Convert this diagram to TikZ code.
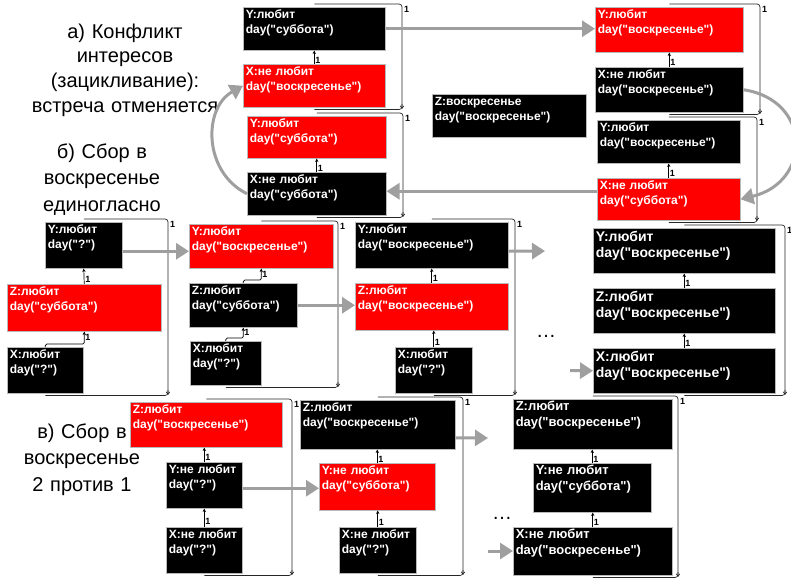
\documentclass[tikz,border=0pt]{standalone}
\usepackage{fontspec}
\setmainfont{Liberation Sans}[Ligatures=TeXOff]
\usetikzlibrary{arrows.meta}
% loop bracket: top node, bottom node, right x, bottom y
\newcommand{\looparc}[4]{%
  \draw[loopback,-{Straight Barb[length=2.5pt,width=3.5pt]}]
    ([yshift=3pt]#1.north) -| node[count,pos=0.5,anchor=north west,xshift=1pt,yshift=-1.5pt] {1} (#3,#4);
  \draw[loopback] ([yshift=-2pt]#2.south) -| (#3,#4-5);
}

\begin{document}
\begin{tikzpicture}[x=1pt,y=-1pt,
  cell/.style 2 args={draw=gray!55,line width=0.5pt,fill=black,text=white,
    anchor=north west,inner xsep=2.5pt,inner ysep=2pt,align=left,
    font=\bfseries\fontsize{12}{15}\selectfont,
    text width=#1-5pt,text height=9.5pt,text depth=#2-13.5pt},
  hot/.style={fill=red},
  mid/.style={font=\bfseries\fontsize{13}{15.5}\selectfont},
  big/.style={font=\bfseries\fontsize{14}{16}\selectfont,text height=11.5pt},
  link/.style={draw=black,line width=0.7pt,rounded corners=1.5pt,
    -{Stealth[length=3.5pt,width=3.2pt]}},
  loopback/.style={draw=black!85,line width=0.7pt,rounded corners=3pt},
  count/.style={font=\bfseries\fontsize{9}{9}\selectfont,inner sep=0.8pt},
  flow/.style={draw=gray!75,line width=3pt,-{Triangle[length=13pt,width=16pt]}},
  heading/.style={text width=220pt,align=center,anchor=base,
    font=\fontsize{20}{24.5}\selectfont}
]
\useasboundingbox (0,0) rectangle (791,578);

% captions
\node[heading] (capA) at (125,38.5) {а) Конфликт\\интересов\\(зацикливание):\\встреча отменяется};
\node[heading,font=\fontsize{20}{26.5}\selectfont] (capB) at (102,158) {б) Сбор в\\воскресенье\\единогласно};
\node[heading,font=\fontsize{20}{26.5}\selectfont] (capC) at (82,438) {в) Сбор в\\воскресенье\\2 против 1};

% a) conflict
\node[cell={142}{43}] (A1) at (243,7) {Y:любит\\day("суббота")};
\node[cell={142}{43},hot] (A2) at (243,64) {X:не~любит\\day("воскресенье")};
\node[cell={139}{42},hot] (A3) at (247,116) {Y:любит\\day("суббота")};
\node[cell={139}{43}] (A4) at (247,172) {X:не~любит\\day("суббота")};
\node[cell={148}{45},hot] (A5) at (595,7) {Y:любит\\day("воскресенье")};
\node[cell={148}{45}] (A6) at (595,67) {X:не~любит\\day("воскресенье")};
\node[cell={143}{43}] (A7) at (597,120) {Y:любит\\day("воскресенье")};
\node[cell={143}{42},hot] (A8) at (597,178) {X:не~любит\\day("суббота")};
\node[cell={154}{43}] (AZ) at (432,94) {Z:воскресенье\\day("воскресенье")};

% b) unanimous
\node[cell={77}{46}] (B1Y) at (45,222) {Y:любит\\day("?")};
\node[cell={154}{47},hot] (B1Z) at (7,284) {Z:любит\\day("суббота")};
\node[cell={76}{46}] (B1X) at (7,347) {X:любит\\day("?")};
\node[cell={144}{44},hot] (B2Y) at (189,224) {Y:любит\\day("воскресенье")};
\node[cell={108}{44}] (B2Z) at (189,283) {Z:любит\\day("суббота")};
\node[cell={71}{44}] (B2X) at (190,341) {X:любит\\day("?")};
\node[cell={153}{46}] (B3Y) at (355,222) {Y:любит\\day("воскресенье")};
\node[cell={153}{47},hot] (B3Z) at (355,283) {Z:любит\\day("воскресенье")};
\node[cell={77}{46}] (B3X) at (395,347) {X:любит\\day("?")};
\node[cell={182}{43},big] (B4Y) at (593,228) {Y:любит\\day("воскресенье")};
\node[cell={182}{43},big] (B4Z) at (593,288) {Z:любит\\day("воскресенье")};
\node[cell={182}{43},big] (B4X) at (593,348) {X:любит\\day("воскресенье")};

% c) two against one
\node[cell={152}{45},hot] (C1Z) at (130,402) {Z:любит\\day("воскресенье")};
\node[cell={76}{46}] (C1Y) at (166,462) {Y:не~любит\\day("?")};
\node[cell={76}{46}] (C1X) at (166,527) {X:не~любит\\day("?")};
\node[cell={155}{49}] (C2Z) at (300,400) {Z:любит\\day("воскресенье")};
\node[cell={116}{47},hot] (C2Y) at (319,463) {Y:не~любит\\day("суббота")};
\node[cell={77}{46}] (C2X) at (339,527) {X:не~любит\\day("?")};
\node[cell={159}{50},mid] (C3Z) at (513,399) {Z:любит\\day("воскресенье")};
\node[cell={118}{49},mid] (C3Y) at (533,463) {Y:не~любит\\day("суббота")};
\node[cell={159}{48},mid] (C3X) at (513,527) {X:не~любит\\day("воскресенье")};

\node[heading,anchor=base] (dotsB) at (546,337) {\dots};
\node[heading,anchor=base] (dotsC) at (502,519) {\dots};
\coordinate (bout) at (545,251);
\coordinate (bin) at (570,370.5);
\coordinate (cout) at (488,438);
\coordinate (cin) at (488,551);

% links
\draw[link] (A2.north) -- node[count,pos=0.3,anchor=west] {1} (A1.south);
\draw[link] (A4.north) -- node[count,pos=0.3,anchor=west] {1} (A3.south);
\draw[link] (A6.north) -- node[count,pos=0.3,anchor=west] {1} (A5.south);
\draw[link] (A8.north) -- node[count,pos=0.3,anchor=west] {1} (A7.south);
\draw[link] (B1Z.north) -- node[count,pos=0.3,anchor=west] {1} (B1Y.south);
\draw[link] (B1X.north) -- ++(0,-3) -| node[count,pos=0.75,anchor=west] {1} (B1Z.south);
\draw[link] (B2Z.north) -- ++(0,-3) -| node[count,pos=0.75,anchor=west] {1} (B2Y.south);
\draw[link] (B2X.north) -- ++(0,-3) -| node[count,pos=0.75,anchor=west] {1} (B2Z.south);
\draw[link] (B3Z.north) -- node[count,pos=0.3,anchor=west] {1} (B3Y.south);
\draw[link] (B3X.north) -- node[count,pos=0.3,anchor=west] {1} (B3X.north |- B3Z.south);
\draw[link] (B4Z.north) -- node[count,pos=0.3,anchor=west] {1} (B4Y.south);
\draw[link] (B4X.north) -- node[count,pos=0.3,anchor=west] {1} (B4Z.south);
\draw[link] (C1Y.north) -- node[count,pos=0.3,anchor=west] {1} (C1Y.north |- C1Z.south);
\draw[link] (C1X.north) -- node[count,pos=0.3,anchor=west] {1} (C1Y.south);
\draw[link] (C2Y.north) -- node[count,pos=0.3,anchor=west] {1} (C2Y.north |- C2Z.south);
\draw[link] (C2X.north) -- node[count,pos=0.3,anchor=west] {1} (C2X.north |- C2Y.south);
\draw[link] (C3Y.north) -- node[count,pos=0.3,anchor=west] {1} (C3Y.north |- C3Z.south);
\draw[link] (C3X.north) -- node[count,pos=0.3,anchor=west] {1} (C3X.north |- C3Y.south);

% loop brackets
\looparc{A1}{A2}{402}{109}
\looparc{A3}{A4}{403}{217}
\looparc{A5}{A6}{760}{114}
\looparc{A7}{A8}{757}{221}
\looparc{B1Y}{B1X}{168}{395}
\looparc{B2Y}{B2X}{338}{387}
\looparc{B3Y}{B3X}{515}{395}
\looparc{B4Y}{B4X}{785}{395}
\looparc{C1Z}{C1X}{292}{575}
\looparc{C2Z}{C2X}{463}{575}
\looparc{C3Z}{C3X}{678}{577}

% transitions
\draw[flow] (A1.east) -- (A1.east -| A5.west);
\draw[flow] (A6.east) .. controls (812,100) and (812,182) .. (A8.east);
\draw[flow] ([yshift=8pt]A8.west) -- ([yshift=8pt]A8.west -| A4.east);
\draw[flow] (A4.west) .. controls (203,172) and (203,108) .. (A2.west);
\draw[flow] ([yshift=-6pt]B1Y.east) -- ([yshift=-6pt]B1Y.east -| B2Y.west);
\draw[flow] (B2Z.east) -- (B2Z.east -| B3Z.west);
\draw[flow] ([yshift=-6pt]B3Y.east) -- (bout);
\draw[flow] (bin) -- (B4X.west);
\draw[flow] ([yshift=-3pt]C1Y.east) -- ([yshift=-3pt]C1Y.east -| C2Y.west);
\draw[flow] ([yshift=-13pt]C2Z.east) -- (cout);
\draw[flow] (cin) -- (cin -| C3X.west);
\end{tikzpicture}
\end{document}
